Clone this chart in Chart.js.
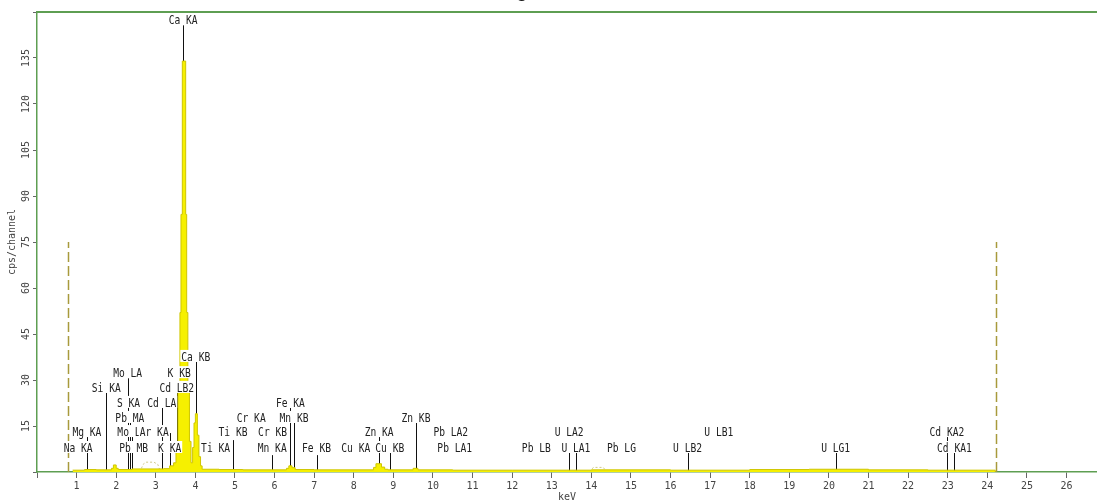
<!DOCTYPE html>
<html>
<head>
<meta charset="utf-8">
<script src="https://cdn.jsdelivr.net/npm/chart.js@4.4.1/dist/chart.umd.min.js"></script>
<style>
html,body{margin:0;padding:0;background:#fff;}
canvas{display:block;}
</style>
</head>
<body>
<canvas id="spec" width="1097" height="501"></canvas>
<script>
// spectrum (keV, counts per channel)
const energy = [0.90, 1.20, 1.50, 1.88, 1.93, 2.00, 2.05, 2.40, 3.20, 3.35, 3.45,
  3.51, 3.56, 3.61, 3.636, 3.67, 3.755, 3.78, 3.81, 3.85, 3.89,
  3.93, 3.965, 4.00, 4.05, 4.09, 4.13, 4.17, 4.60, 5.20,
  6.30, 6.36, 6.44, 6.52, 7.00, 8.50, 8.56, 8.70, 8.78, 8.86, 9.50, 9.62,
  10.5, 12.0, 14.0, 16.0, 18.0, 19.5, 21.0, 22.5, 24.2];
const counts = [0.6, 0.8, 0.7, 1.2, 2.3, 1.2, 0.8, 1.0, 1.1, 2.0, 3.0,
  8, 26, 52, 84, 134, 84, 52, 26, 10, 3,
  8, 16, 19, 12, 5, 2, 0.9, 0.8, 0.7,
  1.2, 2.0, 1.4, 0.8, 0.7, 1.5, 2.7, 1.6, 0.9, 0.7, 1.2, 0.7,
  0.6, 0.6, 0.7, 0.6, 0.8, 0.9, 0.7, 0.6, 0];

// faint dotted humps
const humpEnergy = [2.60, 2.68, 2.75, 2.95, 3.05, 3.12, null, 13.96, 14.05, 14.30, 14.39];
const humpCounts = [0, 2.5, 3.2, 3.2, 2.5, 0, null, 0, 1.5, 1.5, 0];

// region of interest markers
const roiKeV = [0.78, 24.22];
const roiTop = 75;

// element lines: label, keV, label height, line height (0 = no line)
const markerText = ["Na KA","Mg KA","Si KA","Mo LA","S KA","Pb MA","Mo LB","Pb MB","Ar KA","Cd LA",
  "K KA","Cd LB2","K KB","Ca KA","Ca KB","Ti KA","Ti KB","Cr KA","Cr KB","Mn KA",
  "Fe KA","Mn KB","Fe KB","Cu KA","Zn KA","Cu KB","Zn KB","Pb LA2","Pb LA1","Pb LB",
  "U LA2","U LA1","Pb LG","U LB2","U LB1","U LG1","Cd KA2","Cd KA1"];
const markerKeV = [1.04,1.26,1.75,2.29,2.31,2.345,2.395,2.44,2.96,3.15,
  3.35,3.53,3.59,3.69,4.01,4.51,4.95,5.41,5.95,5.94,
  6.40,6.49,7.06,8.05,8.64,8.91,9.57,10.45,10.55,12.61,
  13.44,13.61,14.76,16.43,17.22,20.17,22.98,23.17];
const markerRow = [6.2,11.4,25.8,30.6,20.9,16,11.4,6.2,11.4,20.9,
  6.2,25.8,30.6,145.7,35.9,6.2,11.4,16,11.4,6.2,
  20.9,16,6.2,6.2,11.4,6.2,16,11.4,6.2,6.2,
  11.4,6.2,6.2,6.2,11.4,6.2,11.4,6.2];
const markerLine = [0,11.4,25.8,30.6,0,16,11.4,0,0,20.9,
  12.7,25.8,0,145.7,35.9,0,10.4,0,0,5.5,
  20.9,16,5.5,0,11.4,6.2,16,0,0,0,
  6.2,6.2,0,6.2,0,6.2,11.4,6.2];

const green = "#5e9e52";

const markers = {
  id: "markers",
  beforeDatasetsDraw(chart){
    const {ctx, scales:{x, y}} = chart;
    ctx.save();
    ctx.strokeStyle = "#111";
    ctx.lineWidth = 1;
    markerKeV.forEach((e, i) => {
      if (!markerLine[i]) return;
      const px = Math.round(x.getPixelForValue(e)) + 0.5;
      ctx.beginPath();
      ctx.moveTo(px, y.getPixelForValue(0));
      ctx.lineTo(px, y.getPixelForValue(markerLine[i]));
      ctx.stroke();
    });
    // dashed ROI lines
    ctx.strokeStyle = "#a89a3c";
    ctx.lineWidth = 1.5;
    ctx.setLineDash([10, 4]);
    roiKeV.forEach(e => {
      const px = Math.round(x.getPixelForValue(e)) + 0.5;
      ctx.beginPath();
      ctx.moveTo(px, y.getPixelForValue(0));
      ctx.lineTo(px, y.getPixelForValue(roiTop));
      ctx.stroke();
    });
    ctx.restore();
  },
  afterDatasetsDraw(chart){
    const {ctx, scales:{x, y}} = chart;
    ctx.save();
    ctx.font = "13px 'DejaVu Sans Mono'";
    ctx.textAlign = "center";
    ctx.textBaseline = "alphabetic";
    markerText.forEach((t, i) => {
      const px = x.getPixelForValue(markerKeV[i]);
      const py = y.getPixelForValue(markerRow[i]);
      const w = ctx.measureText(t).width * 0.74;
      ctx.fillStyle = "#fff";
      ctx.fillRect(px - w/2 - 1, py - 12, w + 2, 12);
      ctx.save();
      ctx.translate(px, py - 1);
      ctx.scale(0.74, 1);
      ctx.fillStyle = "#222";
      ctx.fillText(t, 0, 0);
      ctx.restore();
    });
    ctx.restore();
  },
  afterDraw(chart){
    const {ctx, chartArea:a, scales:{y}} = chart;
    ctx.save();
    // top frame line
    ctx.strokeStyle = green;
    ctx.lineWidth = 2;
    ctx.beginPath();
    ctx.moveTo(a.left, a.top);
    ctx.lineTo(a.right, a.top);
    ctx.stroke();
    // rotated y tick labels
    ctx.fillStyle = "#444";
    ctx.font = "10px 'DejaVu Sans Mono'";
    ctx.textAlign = "center";
    ctx.textBaseline = "middle";
    y.ticks.forEach(t => {
      if (t.value <= 0 || t.value >= 150) return;
      ctx.save();
      ctx.translate(26, y.getPixelForValue(t.value));
      ctx.rotate(-Math.PI/2);
      ctx.fillText(String(t.value), 0, 0);
      ctx.restore();
    });
    // title, mostly above the picture
    ctx.fillStyle = "#111";
    ctx.font = "20px 'Liberation Sans'";
    ctx.textAlign = "center";
    ctx.textBaseline = "alphabetic";
    ctx.fillText("Diagram", 524, -3);
    ctx.restore();
  }
};

new Chart(document.getElementById("spec"), {
  type: "line",
  data: {
    datasets: [
      {
        data: energy.map((e, i) => ({x: e, y: counts[i]})),
        stepped: true,
        fill: "origin",
        backgroundColor: "#f6f000",
        borderColor: "#cfc600",
        borderWidth: 1,
        pointRadius: 0
      },
      {
        data: humpEnergy.map((e, i) => e === null ? {x: null, y: null} : ({x: e, y: humpCounts[i]})),
        borderColor: "#cfc88a",
        borderDash: [2, 2],
        borderWidth: 1,
        pointRadius: 0,
        fill: false,
        spanGaps: false
      }
    ]
  },
  options: {
    responsive: false,
    animation: false,
    devicePixelRatio: 1,
    layout: {padding: {top: 12, right: 0, bottom: 0, left: 0}},
    plugins: {legend: {display: false}, tooltip: {enabled: false}},
    scales: {
      x: {
        type: "linear", min: 0, max: 26.77,
        afterFit(s){ s.height = 29; },
        ticks: {stepSize: 1, includeBounds: false, autoSkip: false, maxRotation: 0, padding: 2,
          color: "#444", font: {family: "DejaVu Sans Mono", size: 10},
          callback: v => v === 0 ? "" : v},
        grid: {drawOnChartArea: false, tickLength: 6, color: "#666"},
        border: {color: green, width: 1.5},
        title: {display: true, text: "keV", color: "#444",
          font: {family: "DejaVu Sans Mono", size: 10}, padding: {top: 0, bottom: -2}}
      },
      y: {
        min: 0, max: 150,
        afterFit(s){ s.width = 37; },
        ticks: {stepSize: 15, display: false},
        grid: {drawOnChartArea: false, tickLength: 4, color: "#666"},
        border: {color: green, width: 1.5},
        title: {display: true, text: "cps/channel", color: "#444",
          font: {family: "DejaVu Sans Mono", size: 10}, padding: {top: 6, bottom: 0}}
      }
    }
  },
  plugins: [markers]
});
</script>
</body>
</html>
